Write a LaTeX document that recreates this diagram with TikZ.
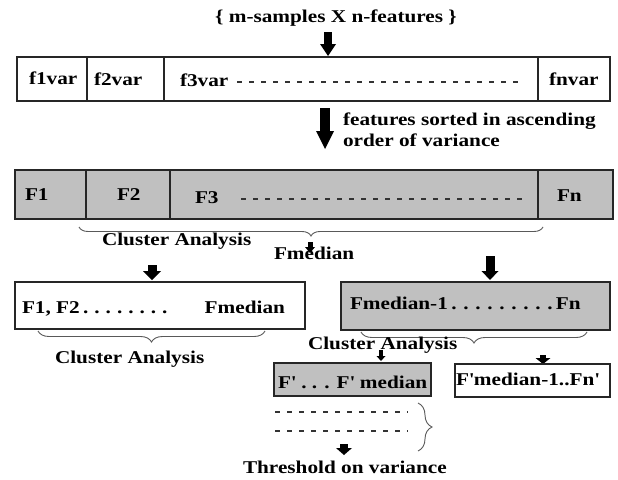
\documentclass[tikz,border=0pt]{standalone}
\usepackage{fontspec}
\setmainfont{Liberation Serif}[FakeStretch=1.18]
\usetikzlibrary{arrows.meta,decorations.pathreplacing,fit}
% a run of evenly spaced dots: total width, pitch
\newcommand{\dotrun}[2]{\hbox to #1{\cleaders\hbox to #2{\hss.\hss}\hfil}}
\newcommand{\apos}{\textquotesingle}
\definecolor{cellgray}{HTML}{C0C0C0}
\begin{document}
\begin{tikzpicture}[x=1pt,y=-1pt,
  every node/.style={font=\fontsize{18}{21}\selectfont\bfseries, inner sep=0pt, outer sep=0pt},
  lbl/.style={anchor=base west},
  cell/.style={draw=black!85, line width=1.4pt, inner sep=0pt},
  graycell/.style={cell, fill=cellgray},
  dashrow/.style={draw=black!80, line width=1.1pt, dash pattern=on 5pt off 7pt},
  blk/.style n args={3}{draw=black, line width=#1, line cap=butt,
    -{Triangle[width=#2,length=#3,line width=0pt]}},
  cbrace/.style={decorate, decoration={brace, amplitude=#1}, draw=black!65, line width=0.9pt},
]
\useasboundingbox (0,0) rectangle (618,479);
\fill[white] (0,0) rectangle (618,479);

% ---- input matrix
\node[anchor=base] (title) at (336,22) {\{ m-samples X n-features \}};
\coordinate (a1s) at (328,32); \coordinate (a1e) at (328,56);
\draw[blk={8pt}{16pt}{12pt}] (a1s) -- (a1e);

% ---- row of raw feature variances
\node[cell, fit={(17,57) (87,101)}] (v1) {};
\node[cell, fit={(87,57) (164,101)}] (v2) {};
\node[cell, fit={(164,57) (538,101)}] (v3) {};
\node[cell, fit={(538,57) (610,101)}] (vn) {};
\node[lbl] (t1) at (29,84) {f1var};
\node[lbl] (t2) at (94,85) {f2var};
\node[lbl] (t3) at (180,86) {f3var};
\node[lbl] (tn) at (549,85) {fnvar};
\coordinate (d1a) at (237,82); \coordinate (d1b) at (520,82);
\draw[dashrow] (d1a) -- (d1b);

% ---- sorting step
\coordinate (a2s) at (325,108); \coordinate (a2e) at (325,149);
\draw[blk={10pt}{18pt}{18pt}] (a2s) -- (a2e);
\node[lbl] (sort1) at (343,125) {features sorted in ascending};
\node[lbl] (sort2) at (343,146) {order of variance};

% ---- sorted feature row
\node[graycell, fit={(15,170) (86,219)}] (s1) {};
\node[graycell, fit={(86,170) (170,219)}] (s2) {};
\node[graycell, fit={(170,170) (538,219)}] (s3) {};
\node[graycell, fit={(538,170) (613,219)}] (sn) {};
\node[lbl] (u1) at (25,200) {F1};
\node[lbl] (u2) at (117,200) {F2};
\node[lbl] (u3) at (195,203) {F3};
\node[lbl] (un) at (557,201) {Fn};
\coordinate (d2a) at (241,199); \coordinate (d2b) at (523,199);
\draw[dashrow] (d2a) -- (d2b);

% ---- first split at the median
\coordinate (b1r) at (543,227); \coordinate (b1l) at (79,227);
\draw[cbrace=9pt] (b1r) -- (b1l);
\node[lbl] (ca1) at (102,245) {Cluster Analysis};
\coordinate (a3s) at (310,242); \coordinate (a3e) at (310,253);
\draw[blk={5pt}{10pt}{6pt}] (a3s) -- (a3e);
\node[lbl] (fmed) at (274,259) {Fmedian};

\coordinate (a4s) at (152,265); \coordinate (a4e) at (152,280);
\draw[blk={9pt}{18pt}{9pt}] (a4s) -- (a4e);
\coordinate (a5s) at (490,256); \coordinate (a5e) at (490,280);
\draw[blk={9pt}{17pt}{9pt}] (a5s) -- (a5e);

\node[cell, fit={(15,282) (305,329)}] (lowhalf) {};
\node[lbl] (lowtxt) at (22,313)
  {\makebox[263pt][l]{F1, F2\dotrun{91pt}{11.3pt}\hfill Fmedian}};
\node[graycell, fit={(341,282) (610,330)}] (highhalf) {};
\node[lbl] (hightxt) at (350,309) {Fmedian-1\dotrun{108pt}{12pt}Fn};

% ---- cluster analysis on each half
\coordinate (b2r) at (265,331); \coordinate (b2l) at (38,331);
\draw[cbrace=11pt] (b2r) -- (b2l);
\node[lbl] (ca2) at (55,363) {Cluster Analysis};
\coordinate (b3r) at (587,332); \coordinate (b3l) at (361,332);
\draw[cbrace=11pt] (b3r) -- (b3l);
\node[lbl] (ca3) at (308,349) {Cluster Analysis};

\coordinate (a6s) at (381,350); \coordinate (a6e) at (381,361);
\draw[blk={4pt}{9pt}{5pt}] (a6s) -- (a6e);
\coordinate (a7s) at (543,355); \coordinate (a7e) at (543,364);
\draw[blk={6pt}{15pt}{6pt}] (a7s) -- (a7e);

\node[graycell, fit={(274,363) (431,396)}] (sublow) {};
\node[lbl] (sublowtxt) at (278,388) {F\apos{} . . . F\apos{} median};
\node[cell, fit={(455,364) (610,397)}] (subhigh) {};
\node[lbl] (subhightxt) at (456,385) {F\apos{}median-1..Fn\apos};

% ---- repeated splitting
\coordinate (d3a) at (275,412); \coordinate (d3b) at (408,412);
\draw[dashrow] (d3a) -- (d3b);
\coordinate (d4a) at (275,431); \coordinate (d4b) at (408,431);
\draw[dashrow] (d4a) -- (d4b);
\coordinate (b4t) at (418,403); \coordinate (b4b) at (418,451);
\draw[cbrace=14pt] (b4t) -- (b4b);

\coordinate (a8s) at (344,444); \coordinate (a8e) at (344,455);
\draw[blk={8pt}{16pt}{7pt}] (a8s) -- (a8e);
\node[lbl] (thr) at (243,473) {Threshold on variance};
\end{tikzpicture}
\end{document}
